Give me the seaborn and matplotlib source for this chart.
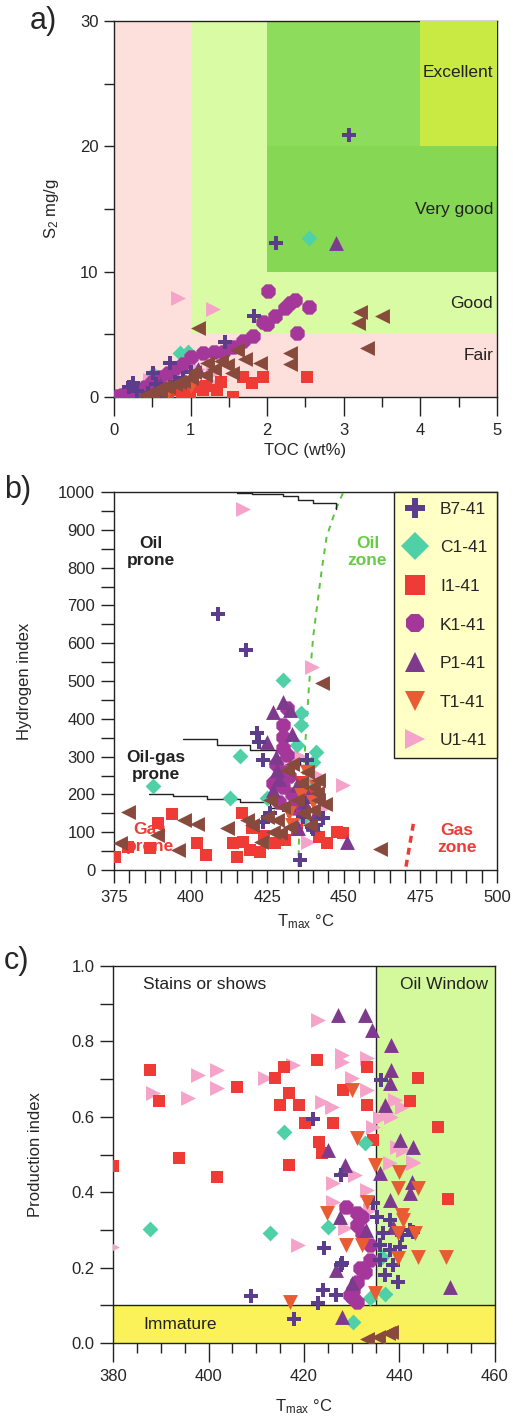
import numpy as np
import pandas as pd
import matplotlib
matplotlib.use("Agg")
import matplotlib.pyplot as plt
from matplotlib.lines import Line2D
from matplotlib.ticker import MultipleLocator, FormatStrFormatter
import seaborn as sns

sns.set_style("ticks")
plt.rcParams['font.family'] = ['Liberation Sans', 'DejaVu Sans']
plt.rcParams['mathtext.fontset'] = 'custom'
plt.rcParams['mathtext.rm'] = 'Liberation Sans'
plt.rcParams['mathtext.it'] = 'Liberation Sans'

series_names = ['B7-41', 'C1-41', 'I1-41', 'K1-41', 'P1-41', 'T1-41', 'U1-41', 'other']
legend_names = ['B7-41', 'C1-41', 'I1-41', 'K1-41', 'P1-41', 'T1-41', 'U1-41']

# ---------------- Panel a : TOC vs S2 ----------------
a_B7_toc = [3.07, 2.11, 1.83, 1.45, 0.73, 0.51, 0.25, 0.62, 0.3, 0.45, 0.9, 1.0, 0.2, 0.55, 0.8]
a_B7_s2 = [20.9, 12.3, 6.5, 4.4, 2.7, 1.9, 1.1, 0.0, 0.5, 0.3, 1.5, 2.0, 0.8, 1.0, 1.2]
a_C1_toc = [2.55, 0.86, 0.97, 0.51, 0.35, 0.6]
a_C1_s2 = [12.7, 3.5, 3.6, 1.8, 0.7, 1.0]
a_I1_toc = [2.52, 1.95, 1.8, 1.68, 1.56, 1.34, 1.16, 0.99, 0.89, 0.7, 0.5, 0.6, 0.85, 1.2, 1.4, 0.95, 1.05]
a_I1_s2 = [1.6, 1.6, 1.1, 1.6, 0.0, 0.55, 0.55, 0.4, 0.3, 0.2, 0.1, 0.3, 0.6, 0.9, 1.2, 0.2, 0.8]
a_K1_toc = [2.01, 2.36, 2.23, 2.55, 2.0, 2.39, 1.81, 1.68, 1.55, 1.42, 1.16, 1.3, 1.0, 0.9, 0.8, 0.7,
            0.6, 0.5, 0.4, 0.3, 0.2, 0.1, 0.05, 0.15, 2.3, 2.1, 1.95]
a_K1_s2 = [8.46, 7.74, 7.1, 7.2, 5.8, 5.1, 4.9, 4.5, 4.0, 3.6, 3.5, 3.6, 3.2, 2.6, 2.3, 1.9,
           1.6, 1.2, 0.8, 0.5, 0.3, 0.2, 0.1, 0.2, 7.5, 6.5, 6.0]
a_P1_toc = [2.9, 0.6, 0.9, 1.1]
a_P1_s2 = [12.3, 1.0, 1.5, 2.2]
a_T1_toc = [0.7, 1.0]
a_T1_s2 = [0.5, 0.9]
a_U1_toc = [0.84, 1.29, 1.29, 1.32, 0.47, 0.6, 0.8, 1.1]
a_U1_s2 = [7.9, 7.0, 1.9, 1.0, 1.35, 1.5, 1.8, 2.2]
a_OT_toc = [1.1, 3.21, 3.19, 3.5, 3.3, 2.3, 2.3, 1.9, 1.71, 1.6, 1.47, 1.54, 1.21, 1.19, 0.5, 0.6,
            0.7, 0.8, 0.9, 1.0, 0.4, 0.55, 0.65, 0.85, 1.05, 1.3, 1.4]
a_OT_s2 = [5.5, 6.8, 5.9, 6.5, 3.9, 3.5, 2.6, 2.7, 3.0, 3.75, 2.55, 1.9, 2.7, 1.75, 0.3, 0.5,
           0.8, 1.0, 1.3, 1.5, 0.2, 0.6, 0.9, 1.2, 2.0, 2.2, 2.9]

# ---------------- Panel b : Tmax vs HI ----------------
b_B7_t = [409, 418, 421.6, 422.4, 423.6, 423.6, 426, 435.7, 443.3, 436.8, 439.5, 438, 441, 437, 440, 432]
b_B7_hi = [677, 582, 362, 339, 291, 126, 150, 26, 137, 141, 115, 290, 120, 180, 108, 160]
b_C1_t = [430, 436, 436, 434.7, 441, 440, 416, 387.7, 413, 425, 438, 437]
b_C1_hi = [503, 415, 384, 330, 312, 286, 301, 222, 190, 190, 230, 140]
b_I1_t = [375.3, 379.6, 386.7, 389.5, 394, 402, 405, 415, 414, 416.8, 417, 419.4, 422.6, 427.5,
          430.8, 434.6, 442, 444.5, 447.8, 449.8, 436.2, 439, 434, 424, 420]
b_I1_hi = [35, 61, 58, 124, 149, 71, 40, 35, 71, 150, 74, 53, 48, 71,
           79, 106, 87, 71, 101, 97, 233, 203, 194, 90, 110]
b_K1_t = [431.4, 430.3, 430.3, 430.3, 431.4, 428, 432, 430, 433, 429, 434, 431, 427]
b_K1_hi = [428, 384, 353, 322, 304, 280, 250, 220, 200, 180, 165, 260, 230]
b_P1_t = [430.3, 427, 432.4, 428.1, 427, 434.6, 440, 451, 425, 428, 433, 429, 437, 441, 435, 438]
b_P1_hi = [445, 419, 423, 265, 212, 225, 123, 75, 340, 300, 360, 240, 180, 150, 110, 200]
b_T1_t = [436, 438, 440, 433, 441, 432]
b_T1_hi = [198, 260, 180, 120, 220, 150]
b_U1_t = [417, 439.5, 429.7, 441.2, 449.8, 443.9, 438.4, 436, 437, 433]
b_U1_hi = [955, 538, 278, 251, 225, 167, 75, 300, 130, 240]
b_OT_t = [442.8, 461.8, 377, 379.6, 389, 398, 402, 396, 412, 418.4, 423, 431.4, 440, 441.2, 434.6, 430.3,
          436.8, 428.1, 432.4, 429.2, 425.9, 440, 441.7, 441.7, 425, 420, 427, 433, 438, 436, 444, 439]
b_OT_hi = [494, 55, 72, 154, 92, 132, 123, 53, 110, 132, 75, 265, 220, 203, 185, 167,
           150, 132, 115, 97, 185, 159, 238, 185, 140, 120, 100, 280, 260, 230, 175, 120]

# boundary curves of panel b (Tmax, HI)
oilzone_t = [449.7, 447.4, 444.4, 442.8, 441.4, 440.0, 439.3, 438.7, 437.3, 436.3, 435.4, 435.2]
oilzone_hi = [997, 954, 882, 794, 706, 617, 548, 495, 317, 185, 98, 9]
top_line_t = [415, 420, 430, 435, 440, 447.4]
top_line_hi = [997, 995, 990, 980, 970, 954]
mid_line_t = [397.6, 408.5, 419.4, 428, 435.7, 438.4]
mid_line_hi = [346, 331, 317, 300, 278, 270]
low_line_t = [386.5, 394.3, 405.3, 416.1, 426, 434.6]
low_line_hi = [200, 196, 189, 180, 163, 150]
gaszone_t = [470.3, 472.7]
gaszone_hi = [9, 122]

# ---------------- Panel c : Tmax vs PI ----------------
c_I1_t = [380, 387.7, 389.7, 406, 413.9, 415.9, 422.8, 416.9, 415, 419, 428.2, 433.1, 433.1, 420.2,
          426.1, 443.9, 442.2, 448.1, 423.2, 434.5, 393.8, 401.8, 416.9, 423.7, 450.2]
c_I1_pi = [0.47, 0.724, 0.642, 0.68, 0.702, 0.733, 0.752, 0.662, 0.631, 0.631, 0.671, 0.733, 0.631, 0.583,
           0.583, 0.702, 0.642, 0.572, 0.534, 0.538, 0.49, 0.441, 0.472, 0.504, 0.381]
c_U1_t = [388.4, 395.8, 397.9, 401.7, 401.7, 411.8, 417.8, 423, 428, 428, 433.1, 430, 433.1, 423.7, 425.8,
          379.7, 418.8, 426.1, 426.1, 430.7, 433.1, 433.8, 428.6, 442.9, 439.1, 440.5, 437.3, 438.3,
          435.9, 434.5, 439.4, 440.8, 442.9, 438]
c_U1_pi = [0.662, 0.649, 0.711, 0.724, 0.676, 0.702, 0.737, 0.857, 0.764, 0.746, 0.755, 0.702, 0.671, 0.64,
           0.627, 0.255, 0.26, 0.424, 0.375, 0.446, 0.406, 0.353, 0.304, 0.477, 0.645, 0.627, 0.609, 0.60,
           0.596, 0.574, 0.521, 0.512, 0.481, 0.477]
c_P1_t = [427.2, 432.8, 434.2, 438.2, 438.2, 438, 437, 442.9, 440.1, 425.1, 428.6, 427.5, 426.8, 430,
          427.9, 438, 442.2, 442.6, 450.6, 438.7, 436, 433]
c_P1_pi = [0.87, 0.87, 0.83, 0.79, 0.724, 0.689, 0.631, 0.521, 0.538, 0.512, 0.472, 0.335, 0.194, 0.158,
           0.07, 0.379, 0.397, 0.428, 0.149, 0.309, 0.45, 0.30]
c_T1_t = [431, 430, 434.9, 439.9, 439.7, 443.9, 440.5, 440.8, 439.7, 443.2, 428.9, 432.1, 443.9, 449.8,
          439.7, 434.9, 417.1, 424.8, 433.1]
c_T1_pi = [0.543, 0.671, 0.472, 0.454, 0.41, 0.41, 0.34, 0.326, 0.291, 0.291, 0.26, 0.26, 0.229, 0.229,
           0.225, 0.132, 0.11, 0.344, 0.375]
c_B7_t = [421.9, 436.2, 427.7, 424.2, 427.7, 424, 423, 426.8, 408.8, 417.9, 436.6, 438, 438.7, 437, 439.7,
          442.9, 438, 435.2, 440.1, 434.5, 435.9, 427.9, 440.5, 442.2, 436]
c_B7_pi = [0.593, 0.698, 0.446, 0.251, 0.207, 0.141, 0.105, 0.127, 0.125, 0.063, 0.291, 0.247, 0.207, 0.18,
           0.163, 0.295, 0.326, 0.335, 0.255, 0.371, 0.22, 0.211, 0.286, 0.3, 0.26]
c_K1_t = [431, 433.8, 433.8, 432.8, 431, 429.6, 431, 428.9, 431, 432.1, 430.3, 432.1, 431.7, 430.3]
c_K1_pi = [0.344, 0.26, 0.22, 0.189, 0.163, 0.127, 0.11, 0.362, 0.313, 0.291, 0.141, 0.335, 0.2, 0.12]
c_C1_t = [415.9, 432.8, 387.7, 412.9, 425, 436.3, 437, 433.8, 430.3]
c_C1_pi = [0.56, 0.53, 0.302, 0.291, 0.307, 0.229, 0.13, 0.119, 0.057]
c_OT_t = [433.1, 435.5, 437.6, 438.3]
c_OT_pi = [0.012, 0.017, 0.026, 0.03]

markers = {'B7-41': 'P', 'C1-41': 'D', 'I1-41': 's', 'K1-41': '8', 'P1-41': '^',
           'T1-41': 'v', 'U1-41': '>', 'other': '<'}
colors = {'B7-41': '#5b3d8c', 'C1-41': '#4fd0a6', 'I1-41': '#ef3b35', 'K1-41': '#a5379a',
          'P1-41': '#7e3b8e', 'T1-41': '#e95c33', 'U1-41': '#f6a3c9', 'other': '#874a3c'}
sizes = {'B7-41': 90, 'C1-41': 65, 'I1-41': 70, 'K1-41': 125, 'P1-41': 115,
         'T1-41': 115, 'U1-41': 115, 'other': 115}
draw_order = ['U1-41', 'I1-41', 'C1-41', 'K1-41', 'P1-41', 'B7-41', 'T1-41', 'other']


def make_df(d):
    rows = []
    for name, (xs, ys) in d.items():
        for x, y in zip(xs, ys):
            rows.append((name, x, y))
    return pd.DataFrame(rows, columns=['series', 'x', 'y'])


df_a = make_df({'B7-41': (a_B7_toc, a_B7_s2), 'C1-41': (a_C1_toc, a_C1_s2), 'I1-41': (a_I1_toc, a_I1_s2),
                'K1-41': (a_K1_toc, a_K1_s2), 'P1-41': (a_P1_toc, a_P1_s2), 'T1-41': (a_T1_toc, a_T1_s2),
                'U1-41': (a_U1_toc, a_U1_s2), 'other': (a_OT_toc, a_OT_s2)})
df_b = make_df({'B7-41': (b_B7_t, b_B7_hi), 'C1-41': (b_C1_t, b_C1_hi), 'I1-41': (b_I1_t, b_I1_hi),
                'K1-41': (b_K1_t, b_K1_hi), 'P1-41': (b_P1_t, b_P1_hi), 'T1-41': (b_T1_t, b_T1_hi),
                'U1-41': (b_U1_t, b_U1_hi), 'other': (b_OT_t, b_OT_hi)})
df_c = make_df({'B7-41': (c_B7_t, c_B7_pi), 'C1-41': (c_C1_t, c_C1_pi), 'I1-41': (c_I1_t, c_I1_pi),
                'K1-41': (c_K1_t, c_K1_pi), 'P1-41': (c_P1_t, c_P1_pi), 'T1-41': (c_T1_t, c_T1_pi),
                'U1-41': (c_U1_t, c_U1_pi), 'other': (c_OT_t, c_OT_pi)})


def draw_points(ax, df):
    for i, name in enumerate(draw_order):
        sub = df[df['series'] == name]
        sns.scatterplot(data=sub, x='x', y='y', marker=markers[name], color=colors[name],
                        s=sizes[name], linewidth=0, ax=ax, legend=False, zorder=5 + i)


def style_axes(ax, xmaj, xmin, ymaj, ymin):
    for sp in ax.spines.values():
        sp.set_visible(True)
        sp.set_color('#222222')
        sp.set_linewidth(1.0)
    ax.set_facecolor('white')
    ax.tick_params(axis='x', which='major', direction='out', length=xmaj, width=1.0,
                   labelsize=12, color='#222222', pad=5)
    ax.tick_params(axis='x', which='minor', direction='out', length=xmin, width=1.0, color='#222222')
    ax.tick_params(axis='y', which='major', direction='out', length=ymaj, width=1.0,
                   labelsize=12, color='#222222', pad=4)
    ax.tick_params(axis='y', which='minor', direction='out', length=ymin, width=1.0, color='#222222')


fig = plt.figure(figsize=(5.13, 14.2), dpi=100)

# ---------- a ----------
ax_a = fig.add_axes([0.2222, 0.7204, 0.7466, 0.2648])
ax_a.set_xlim(0, 5)
ax_a.set_ylim(0, 30)
ax_a.axvspan(0, 5, color='#fde0db', zorder=0)
ax_a.fill_between([1, 5], 5, 30, color='#d9fba3', zorder=1, linewidth=0)
ax_a.fill_between([2, 5], 10, 30, color='#8ddc5b', zorder=2, linewidth=0)
ax_a.fill_between([2, 5], 10, 20, color='#86d753', zorder=2, linewidth=0)
ax_a.fill_between([4, 5], 20, 30, color='#c8ea42', zorder=3, linewidth=0)
draw_points(ax_a, df_a)
for txt, yv in [('Excellent', 25.9), ('Very good', 15), ('Good', 7.5), ('Fair', 3.3)]:
    ax_a.text(4.95, yv, txt, ha='right', va='center', fontsize=12.5, color='#222222', zorder=20)
ax_a.xaxis.set_major_locator(MultipleLocator(1))
ax_a.xaxis.set_minor_locator(MultipleLocator(0.5))
ax_a.yaxis.set_major_locator(MultipleLocator(10))
ax_a.yaxis.set_minor_locator(MultipleLocator(5))
style_axes(ax_a, 14, 7, 7, 7)
ax_a.set_xlabel('TOC (wt%)', fontsize=12, labelpad=3)
ax_a.set_ylabel(r'S$_{\mathrm{2}}$ mg/g', fontsize=12, labelpad=14)

# ---------- b ----------
ax_b = fig.add_axes([0.2222, 0.3873, 0.7466, 0.2662])
ax_b.set_xlim(375, 500)
ax_b.set_ylim(0, 1000)
draw_points(ax_b, df_b)
ax_b.plot(oilzone_t, oilzone_hi, ls=(0, (3, 3)), color='#5cc43a', lw=1.4, zorder=4)
ax_b.plot(top_line_t, top_line_hi, color='#222222', lw=1.0, drawstyle='steps-post', zorder=4)
ax_b.plot(mid_line_t, mid_line_hi, color='#222222', lw=1.0, drawstyle='steps-post', zorder=4)
ax_b.plot(low_line_t, low_line_hi, color='#222222', lw=1.0, drawstyle='steps-post', zorder=4)
ax_b.plot(gaszone_t, gaszone_hi, ls=(0, (2, 1.5)), color='#ef3b35', lw=2.5, zorder=4)
ax_b.text(387, 841, 'Oil\nprone', ha='center', va='center', fontsize=12.5, fontweight='bold',
          color='#222222', linespacing=1.15, zorder=20)
ax_b.text(457.7, 841, 'Oil\nzone', ha='center', va='center', fontsize=12.5, fontweight='bold',
          color='#66cc44', linespacing=1.15, zorder=20)
ax_b.text(388.7, 275, 'Oil-gas\nprone', ha='center', va='center', fontsize=12.5, fontweight='bold',
          color='#222222', linespacing=1.15, zorder=20)
ax_b.text(386.8, 85, 'Gas\nprone', ha='center', va='center', fontsize=12.5, fontweight='bold',
          color='#ef3b35', linespacing=1.15, zorder=4)
ax_b.text(487, 82, 'Gas\nzone', ha='center', va='center', fontsize=12.5, fontweight='bold',
          color='#ef3b35', linespacing=1.15, zorder=20)
ax_b.xaxis.set_major_locator(MultipleLocator(25))
ax_b.xaxis.set_minor_locator(MultipleLocator(5))
ax_b.yaxis.set_major_locator(MultipleLocator(100))
ax_b.yaxis.set_minor_locator(MultipleLocator(50))
style_axes(ax_b, 9.5, 9.5, 9.5, 9.5)
ax_b.set_xlabel(r'T$_{\mathrm{max}}$ °C', fontsize=12, labelpad=5)
ax_b.set_ylabel('Hydrogen index', fontsize=12, labelpad=19)
handles = [Line2D([], [], ls='none', marker=markers[n], color=colors[n], markersize=14,
                  markeredgewidth=0) for n in legend_names]
leg = ax_b.legend(handles, legend_names, loc='upper right', bbox_to_anchor=(1.0, 1.0),
                  borderaxespad=0, frameon=True, fancybox=False, facecolor='#ffffc6',
                  edgecolor='#222222', framealpha=1, fontsize=12.5, labelspacing=1.35,
                  handlelength=1.3, handletextpad=0.8, borderpad=0.55)
leg.set_zorder(30)
leg.get_frame().set_linewidth(1.0)

# ---------- c ----------
ax_c = fig.add_axes([0.2203, 0.0542, 0.7446, 0.2655])
ax_c.set_xlim(380, 460)
ax_c.set_ylim(0, 1.0)
ax_c.fill_between([435, 460], 0.1, 1.0, color='#d4f89c', zorder=0, linewidth=0)
ax_c.fill_between([380, 460], 0.0, 0.1, color='#fbf25a', zorder=0, linewidth=0)
ax_c.axvline(435, ymin=0.1, ymax=1.0, color='#222222', lw=1.0, zorder=3)
ax_c.axhline(0.1, color='#222222', lw=1.0, zorder=3)
draw_points(ax_c, df_c)
ax_c.text(386.3, 0.95, 'Stains or shows', ha='left', va='center', fontsize=12.5, color='#222222', zorder=20)
ax_c.text(458.6, 0.95, 'Oil Window', ha='right', va='center', fontsize=12.5, color='#222222', zorder=20)
ax_c.text(386.3, 0.05, 'Immature', ha='left', va='center', fontsize=12.5, color='#222222', zorder=20)
ax_c.xaxis.set_major_locator(MultipleLocator(20))
ax_c.xaxis.set_minor_locator(MultipleLocator(5))
ax_c.yaxis.set_major_locator(MultipleLocator(0.2))
ax_c.yaxis.set_minor_locator(MultipleLocator(0.1))
ax_c.yaxis.set_major_formatter(FormatStrFormatter('%.1f'))
style_axes(ax_c, 14, 7, 9.5, 9.5)
ax_c.set_xlabel(r'T$_{\mathrm{max}}$ °C', fontsize=12, labelpad=9)
ax_c.set_ylabel('Production index', fontsize=12, labelpad=20)

fig.text(0.058, 0.985, 'a)', fontsize=22, ha='left', va='center')
fig.text(0.008, 0.655, 'b)', fontsize=22, ha='left', va='center')
fig.text(0.008, 0.323, 'c)', fontsize=22, ha='left', va='center')

fig.savefig('out.png', dpi=100)
